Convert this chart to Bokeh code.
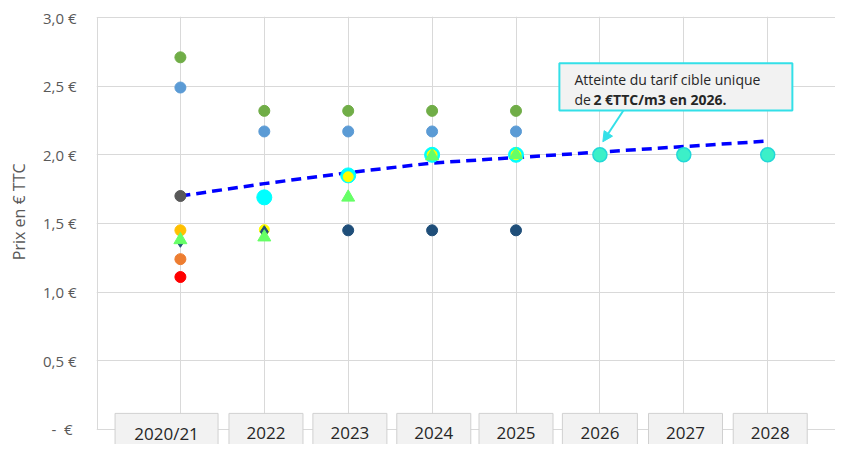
import math
from bokeh.plotting import figure
from bokeh.models import Range1d, FixedTicker, Arrow, NormalHead
from bokeh.core.properties import value
from bokeh.embed import file_html
from bokeh.resources import INLINE

nan = float("nan")

categories = ["2020/21", "2022", "2023", "2024", "2025", "2026", "2027", "2028"]
serie_vert = [2.71, 2.32, 2.32, 2.32, 2.32, nan, nan, nan]
serie_bleu = [2.49, 2.17, 2.17, 2.17, 2.17, nan, nan, nan]
serie_gris = [1.70, nan, nan, nan, nan, nan, nan, nan]
serie_or = [1.45, nan, nan, nan, nan, nan, nan, nan]
serie_orange = [1.24, nan, nan, nan, nan, nan, nan, nan]
serie_rouge = [1.11, nan, nan, nan, nan, nan, nan, nan]
serie_cyan = [nan, 1.69, 1.85, 2.00, 2.00, nan, nan, nan]
serie_jaune = [nan, 1.455, 1.84, 2.00, 2.00, nan, nan, nan]
serie_marine_losange = [1.37, 1.44, nan, nan, nan, nan, nan, nan]
serie_marine = [nan, nan, 1.45, 1.45, 1.45, nan, nan, nan]
serie_triangle = [1.38, 1.40, 1.69, 1.99, 2.00, nan, nan, nan]
serie_cible = [nan, nan, nan, nan, nan, 2.00, 2.00, 2.00]
tendance = [1.70, 1.79, 1.87, 1.94, 1.98, 2.02, 2.06, 2.10]

y_ticks = [0, 0.5, 1.0, 1.5, 2.0, 2.5, 3.0]
y_tick_labels = ["-  \u00a0€", "0,5 €", "1,0 €", "1,5 €", "2,0 €", "2,5 €", "3,0 €"]

annot_line1 = "Atteinte du tarif cible unique"
annot_line2a = "de "
annot_line2b = "2 €TTC/m3 en 2026."
y_title = "Prix en € TTC"

x = list(range(len(categories)))
FONT = "Open Sans"

p = figure(width=835, height=444, output_backend="svg", toolbar_location=None,
           x_range=Range1d(-1.0, 7.808), y_range=Range1d(-0.110, 3.0073),
           min_border_left=96, min_border_right=0, min_border_top=16, min_border_bottom=0)
p.outline_line_color = None
p.background_fill_color = "white"
p.border_fill_color = "white"

p.xaxis.visible = False
p.xgrid.ticker = FixedTicker(ticks=x)
p.ygrid.ticker = FixedTicker(ticks=y_ticks)
p.xgrid.grid_line_color = "#D9D9D9"
p.ygrid.grid_line_color = "#D9D9D9"

ya = p.yaxis[0]
ya.ticker = FixedTicker(ticks=y_ticks)
ya.major_label_overrides = {t: l for t, l in zip(y_ticks, y_tick_labels)}
ya.axis_line_color = None
ya.major_tick_line_color = None
ya.minor_tick_line_color = None
ya.major_tick_out = 0
ya.major_tick_in = 0
ya.major_label_standoff = 20
ya.major_label_text_font = FONT
ya.major_label_text_font_size = "15px"
ya.major_label_text_color = "#595959"
ya.axis_label = "\u00a0" * 9 + y_title
ya.axis_label_standoff = 10
ya.axis_label_text_font = FONT
ya.axis_label_text_font_size = "16px"
ya.axis_label_text_font_style = "normal"
ya.axis_label_text_color = "#595959"

# left frame line
x_left = -1.0 + 1.0 / 83.9
p.segment(x0=[x_left], y0=[0], x1=[x_left], y1=[3.0], line_color="#D9D9D9", line_width=1)

# trend line
p.line(x, tendance, line_color="#0000FF", line_width=3.5, line_dash="10 6")

# points
p.scatter(x, serie_vert, size=11, color="#70AD47")
p.scatter(x, serie_bleu, size=11, color="#5B9BD5")
p.scatter(x, serie_gris, size=11, color="#595959")
p.scatter(x, serie_or, size=11, color="#FFC000")
p.scatter(x, serie_orange, size=11, color="#ED7D31")
p.scatter(x, serie_rouge, size=11, color="#FF0000")
p.scatter(x, serie_cyan, size=15, color="#00FFFF")
p.scatter(x, serie_jaune, size=10, color="#FFFF00")
p.scatter(x, serie_marine_losange, size=12, marker="diamond", color="#1F4E79")
p.scatter(x, serie_marine, size=11, color="#1F4E79")
p.scatter(x, serie_triangle, size=13, marker="triangle", color="#66FF66")
p.scatter(x, serie_cible, size=14, fill_color="#3CF0C8", line_color="#22D8D8", line_width=1.5)

# category label boxes
box_dx = [-0.165, 0.02, 0.02, 0.02, 0.0, 0.0, 0.02, 0.03]
box_w = [103, 74, 74, 74, 74, 75, 74, 74]
bx = [xi + d for xi, d in zip(x, box_dx)]
p.rect(x=bx, y=[-0.0437] * len(x), width=box_w, height=[44] * len(x),
       width_units="screen", height_units="screen",
       fill_color="#F2F2F2", line_color="#D0D0D0", line_width=1)
p.text(x=bx, y=[-0.029] * len(x), text=categories, text_align="center",
       text_baseline="middle", text_font=value(FONT), text_font_size="17px",
       text_color="#262626")

# annotation box
CY = "#33E0E8"
p.quad(left=[4.517], right=[7.294], top=[2.666], bottom=[2.323],
       fill_color="#F2F2F2", line_color=CY, line_width=2)
p.text(x=[4.696], y=[2.549], text=[annot_line1], text_align="left", text_baseline="middle",
       text_font=value(FONT), text_font_size="14px", text_color="#262626")
p.text(x=[4.696], y=[2.403], text=[annot_line2a], text_align="left", text_baseline="middle",
       text_font=value(FONT), text_font_size="14px", text_color="#262626")
p.text(x=[4.923], y=[2.403], text=[annot_line2b], text_align="left", text_baseline="middle",
       text_font=value(FONT), text_font_size="14px", text_font_style="bold",
       text_color="#262626")
p.add_layout(Arrow(end=NormalHead(size=10, fill_color=CY, line_color=CY),
                   x_start=5.28, y_start=2.323, x_end=5.035, y_end=2.095,
                   line_color=CY, line_width=2))

open("out.html", "w").write(file_html(p, INLINE))
